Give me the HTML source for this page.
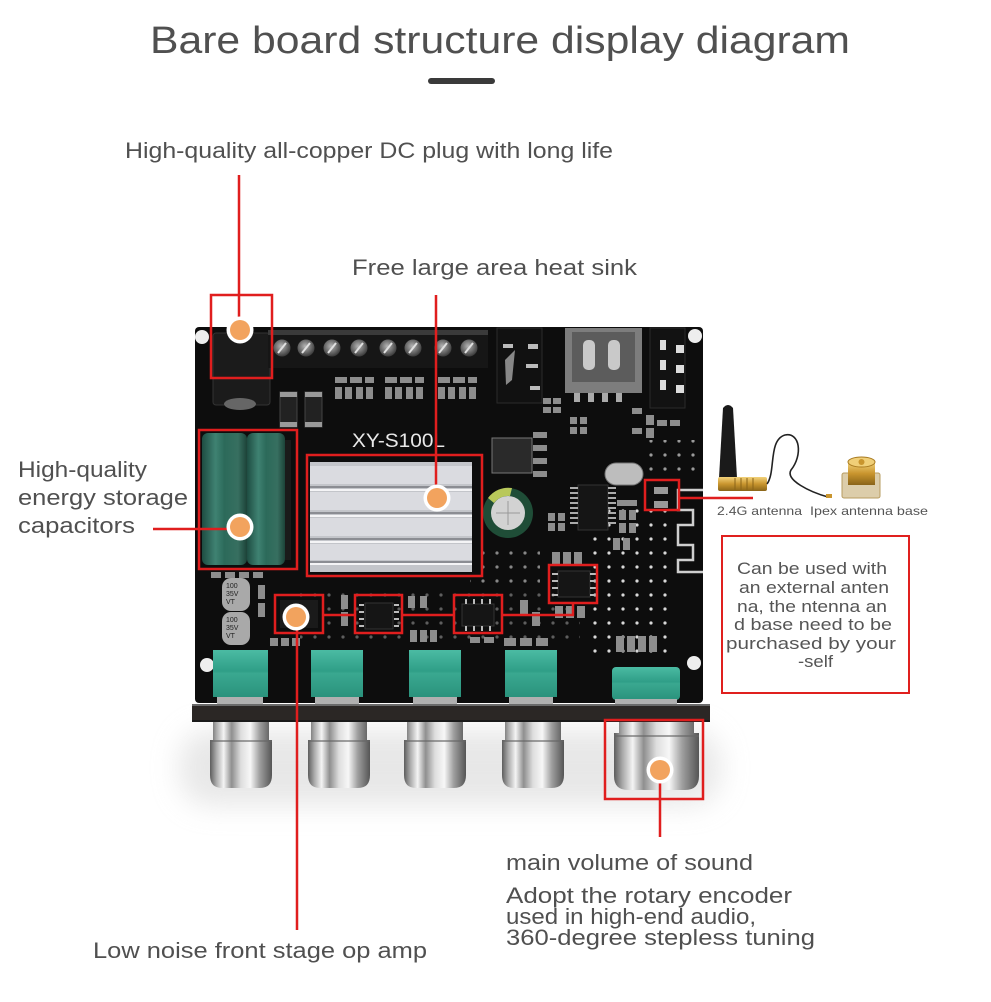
<!DOCTYPE html>
<html><head><meta charset="utf-8">
<style>
html,body{margin:0;padding:0;background:#fff;}
svg{display:block;}
text{font-family:"Liberation Sans",Arial,sans-serif;}
</style></head>
<body>
<svg width="991" height="1002" viewBox="0 0 991 1002" xmlns="http://www.w3.org/2000/svg">
<defs>
 <linearGradient id="knob" x1="0" x2="1" y1="0" y2="0">
  <stop offset="0" stop-color="#5d5d5d"/>
  <stop offset="0.1" stop-color="#a9a9a9"/>
  <stop offset="0.22" stop-color="#f4f4f4"/>
  <stop offset="0.35" stop-color="#8f8f8f"/>
  <stop offset="0.5" stop-color="#dedede"/>
  <stop offset="0.65" stop-color="#f7f7f7"/>
  <stop offset="0.8" stop-color="#a0a0a0"/>
  <stop offset="1" stop-color="#555"/>
 </linearGradient>
 <linearGradient id="cap" x1="0" x2="1" y1="0" y2="0">
  <stop offset="0" stop-color="#1e4d42"/>
  <stop offset="0.3" stop-color="#3f8272"/>
  <stop offset="0.5" stop-color="#2c6a5a"/>
  <stop offset="0.8" stop-color="#376f60"/>
  <stop offset="1" stop-color="#1c4238"/>
 </linearGradient>
 <linearGradient id="gold" x1="0" y1="0" x2="0" y2="1">
  <stop offset="0" stop-color="#f2d27a"/>
  <stop offset="0.5" stop-color="#c9952e"/>
  <stop offset="1" stop-color="#8a6418"/>
 </linearGradient>
 <linearGradient id="teal" x1="0" y1="0" x2="0" y2="1">
  <stop offset="0" stop-color="#4bbba3"/>
  <stop offset="0.45" stop-color="#2f9e87"/>
  <stop offset="0.5" stop-color="#3aa890"/>
  <stop offset="1" stop-color="#2a927c"/>
 </linearGradient>
 <radialGradient id="screw" cx="0.45" cy="0.4" r="0.6">
  <stop offset="0" stop-color="#b5b5b5"/>
  <stop offset="1" stop-color="#3a3a3a"/>
 </radialGradient>
 <pattern id="vias" width="14" height="14" patternUnits="userSpaceOnUse">
  <circle cx="7" cy="7" r="1.6" fill="#d8d8d8"/>
 </pattern>
 <filter id="blur" x="-50%" y="-50%" width="200%" height="200%"><feGaussianBlur stdDeviation="14"/></filter>
</defs>

<rect width="991" height="1002" fill="#fff"/>

<!-- Title -->
<text x="150" y="53" font-size="38" fill="#505050" textLength="700" lengthAdjust="spacingAndGlyphs">Bare board structure display diagram</text>
<rect x="428" y="78" width="67" height="6" rx="3" fill="#3a3a3a"/>

<!-- Labels -->
<g font-size="22" fill="#505050">
 <text x="125" y="158" textLength="488" lengthAdjust="spacingAndGlyphs">High-quality all-copper DC plug with long life</text>
 <text x="352" y="275" textLength="285" lengthAdjust="spacingAndGlyphs">Free large area heat sink</text>
 <text x="18" y="477" textLength="129" lengthAdjust="spacingAndGlyphs">High-quality</text>
 <text x="18" y="505" textLength="170" lengthAdjust="spacingAndGlyphs">energy storage</text>
 <text x="18" y="533" textLength="117" lengthAdjust="spacingAndGlyphs">capacitors</text>
 <text x="506" y="870" textLength="247" lengthAdjust="spacingAndGlyphs">main volume of sound</text>
 <text x="506" y="903" textLength="286" lengthAdjust="spacingAndGlyphs">Adopt the rotary encoder</text>
 <text x="506" y="924" textLength="250" lengthAdjust="spacingAndGlyphs">used in high-end audio,</text>
 <text x="506" y="945" textLength="309" lengthAdjust="spacingAndGlyphs">360-degree stepless tuning</text>
 <text x="93" y="958" textLength="334" lengthAdjust="spacingAndGlyphs">Low noise front stage op amp</text>
</g>

<!-- Shadow under knobs -->
<rect x="180" y="730" width="540" height="75" rx="30" fill="#d4d4d4" opacity="0.55" filter="url(#blur)"/>

<!-- PCB -->
<rect x="195" y="327" width="508" height="376" rx="4" fill="#0d0d0d"/>
<!-- vias -->
<rect x="590" y="505" width="85" height="150" fill="url(#vias)"/>
<rect x="470" y="545" width="70" height="40" fill="url(#vias)" opacity="0.6"/>
<rect x="300" y="585" width="280" height="60" fill="url(#vias)" opacity="0.4"/>
<rect x="640" y="440" width="60" height="40" fill="url(#vias)" opacity="0.7"/>

<!-- mounting holes -->
<g fill="#eeeeee">
 <circle cx="202" cy="337" r="7"/><circle cx="695" cy="336" r="7"/>
 <circle cx="207" cy="665" r="7"/><circle cx="694" cy="663" r="7"/>
</g>

<!-- DC jack -->
<rect x="213" y="333" width="57" height="72" rx="3" fill="#1b1b1b" stroke="#333"/>
<ellipse cx="240" cy="404" rx="16" ry="6" fill="#666"/>

<!-- Terminal block -->
<rect x="268" y="330" width="220" height="38" fill="#161616"/>
<rect x="268" y="330" width="220" height="5" fill="#3a3a3a"/>
<g fill="url(#screw)">
 <circle cx="282" cy="348" r="8.5"/><circle cx="306" cy="348" r="8.5"/>
 <circle cx="332" cy="348" r="8.5"/><circle cx="359" cy="348" r="8.5"/>
 <circle cx="388" cy="348" r="8.5"/><circle cx="413" cy="348" r="8.5"/>
 <circle cx="443" cy="348" r="8.5"/><circle cx="469" cy="348" r="8.5"/>
</g>
<g stroke="#e0e0e0" stroke-width="2">
 <line x1="278" y1="353" x2="286" y2="343"/><line x1="302" y1="353" x2="310" y2="343"/>
 <line x1="328" y1="353" x2="336" y2="343"/><line x1="355" y1="353" x2="363" y2="343"/>
 <line x1="384" y1="353" x2="392" y2="343"/><line x1="409" y1="353" x2="417" y2="343"/>
 <line x1="439" y1="353" x2="447" y2="343"/><line x1="465" y1="353" x2="473" y2="343"/>
</g>

<!-- Audio jack -->
<rect x="497" y="328" width="45" height="75" fill="#111" stroke="#2a2a2a"/>
<g fill="#bbb">
 <rect x="503" y="344" width="10" height="4"/><rect x="528" y="344" width="10" height="5"/>
 <rect x="526" y="364" width="12" height="4"/><rect x="530" y="386" width="10" height="4"/>
 <path d="M505 360 L515 350 L512 380 L506 385 Z" fill="#888"/>
</g>

<!-- USB -->
<rect x="565" y="328" width="77" height="65" fill="#7d7d7d"/>
<rect x="572" y="332" width="63" height="50" fill="#5c5c5c"/>
<rect x="583" y="340" width="12" height="30" rx="5" fill="#c9c9c9"/>
<rect x="608" y="340" width="12" height="30" rx="5" fill="#c9c9c9"/>
<g fill="#aaa"><rect x="574" y="393" width="6" height="9"/><rect x="588" y="393" width="6" height="9"/><rect x="602" y="393" width="6" height="9"/><rect x="616" y="393" width="6" height="9"/></g>

<!-- right connector -->
<rect x="650" y="328" width="35" height="80" fill="#121212" stroke="#2a2a2a"/>
<g fill="#ddd"><rect x="676" y="345" width="8" height="8"/><rect x="676" y="365" width="8" height="8"/><rect x="676" y="385" width="8" height="8"/><rect x="660" y="340" width="6" height="10"/><rect x="660" y="360" width="6" height="10"/><rect x="660" y="380" width="6" height="10"/></g>

<!-- diodes -->
<rect x="280" y="392" width="17" height="35" fill="#222" stroke="#444"/>
<rect x="280" y="392" width="17" height="5" fill="#999"/><rect x="280" y="422" width="17" height="5" fill="#999"/>
<rect x="305" y="392" width="17" height="35" fill="#222" stroke="#444"/>
<rect x="305" y="392" width="17" height="5" fill="#999"/><rect x="305" y="422" width="17" height="5" fill="#999"/>

<!-- SMD clusters -->
<g fill="#8d8d8d">
 <rect x="335" y="377" width="12" height="6"/><rect x="350" y="377" width="12" height="6"/><rect x="365" y="377" width="9" height="6"/>
 <rect x="335" y="387" width="7" height="12"/><rect x="345" y="387" width="7" height="12"/><rect x="356" y="387" width="7" height="12"/><rect x="366" y="387" width="7" height="12"/>
 <rect x="385" y="377" width="12" height="6"/><rect x="400" y="377" width="12" height="6"/><rect x="415" y="377" width="9" height="6"/>
 <rect x="385" y="387" width="7" height="12"/><rect x="395" y="387" width="7" height="12"/><rect x="406" y="387" width="7" height="12"/><rect x="416" y="387" width="7" height="12"/>
 <rect x="438" y="377" width="12" height="6"/><rect x="453" y="377" width="12" height="6"/><rect x="468" y="377" width="9" height="6"/>
 <rect x="438" y="387" width="7" height="12"/><rect x="448" y="387" width="7" height="12"/><rect x="459" y="387" width="7" height="12"/><rect x="469" y="387" width="7" height="12"/>
 <rect x="543" y="398" width="8" height="6"/><rect x="553" y="398" width="8" height="6"/><rect x="543" y="407" width="8" height="6"/><rect x="553" y="407" width="8" height="6"/>
 <rect x="570" y="417" width="7" height="7"/><rect x="580" y="417" width="7" height="7"/><rect x="570" y="427" width="7" height="7"/><rect x="580" y="427" width="7" height="7"/>
 <rect x="632" y="408" width="10" height="6"/><rect x="646" y="415" width="8" height="10"/><rect x="657" y="420" width="10" height="6"/><rect x="670" y="420" width="10" height="6"/><rect x="646" y="428" width="8" height="10"/><rect x="632" y="428" width="10" height="6"/>
 <rect x="533" y="432" width="14" height="6"/><rect x="533" y="445" width="14" height="6"/><rect x="533" y="458" width="14" height="6"/><rect x="533" y="471" width="14" height="6"/>
 <rect x="548" y="513" width="7" height="8"/><rect x="558" y="513" width="7" height="8"/><rect x="548" y="523" width="7" height="8"/><rect x="558" y="523" width="7" height="8"/>
 <rect x="617" y="500" width="20" height="6"/><rect x="619" y="510" width="7" height="10"/><rect x="629" y="510" width="7" height="10"/><rect x="619" y="523" width="7" height="10"/><rect x="629" y="523" width="7" height="10"/>
 <rect x="613" y="538" width="7" height="12"/><rect x="623" y="538" width="7" height="12"/>
 <rect x="616" y="636" width="8" height="16"/><rect x="627" y="636" width="8" height="16"/><rect x="638" y="636" width="8" height="16"/><rect x="649" y="636" width="8" height="16"/>
 <rect x="504" y="638" width="12" height="8"/><rect x="520" y="638" width="12" height="8"/><rect x="536" y="638" width="12" height="8"/>
 <rect x="552" y="552" width="8" height="12"/><rect x="563" y="552" width="8" height="12"/><rect x="574" y="552" width="8" height="12"/>
 <rect x="555" y="606" width="8" height="12"/><rect x="566" y="606" width="8" height="12"/><rect x="577" y="606" width="8" height="12"/>
 <rect x="410" y="630" width="7" height="12"/><rect x="420" y="630" width="7" height="12"/><rect x="430" y="630" width="7" height="12"/>
 <rect x="470" y="637" width="10" height="6"/><rect x="484" y="637" width="10" height="6"/>
 <rect x="258" y="585" width="7" height="14"/><rect x="258" y="603" width="7" height="14"/>
 <rect x="270" y="638" width="8" height="8"/><rect x="281" y="638" width="8" height="8"/><rect x="292" y="638" width="8" height="8"/>
 <rect x="341" y="595" width="7" height="14"/><rect x="341" y="612" width="7" height="14"/>
 <rect x="408" y="596" width="7" height="12"/><rect x="420" y="596" width="7" height="12"/>
 <rect x="211" y="572" width="10" height="6"/><rect x="225" y="572" width="10" height="6"/><rect x="239" y="572" width="10" height="6"/><rect x="253" y="572" width="10" height="6"/>
 <rect x="520" y="600" width="8" height="14"/><rect x="532" y="612" width="8" height="14"/>
</g>

<!-- big caps -->
<rect x="202" y="433" width="45" height="132" rx="6" fill="url(#cap)"/>
<rect x="247" y="433" width="38" height="132" rx="6" fill="url(#cap)"/>
<rect x="285" y="440" width="6" height="120" fill="#1a1a1a"/>

<!-- heat sink -->
<rect x="310" y="462" width="162" height="110" fill="#c3c5ca"/>
<g fill="#dadbe0">
 <rect x="310" y="466" width="162" height="18"/><rect x="310" y="492" width="162" height="18"/>
 <rect x="310" y="518" width="162" height="18"/><rect x="310" y="544" width="162" height="16"/>
</g>
<g fill="#f4f4f6">
 <rect x="310" y="489" width="162" height="2"/><rect x="310" y="515" width="162" height="2"/>
 <rect x="310" y="541" width="162" height="2"/><rect x="310" y="563" width="162" height="2"/>
</g>
<g fill="#8b8d93">
 <rect x="310" y="486" width="162" height="2"/><rect x="310" y="512" width="162" height="2"/>
 <rect x="310" y="538" width="162" height="2"/><rect x="310" y="561" width="162" height="2"/>
</g>
<text x="352" y="447" font-size="19" fill="#e8e8e8" textLength="93" lengthAdjust="spacingAndGlyphs">XY-S100L</text>

<!-- inductor / electrolytic -->
<rect x="492" y="438" width="40" height="35" fill="#2a2a2a" stroke="#777"/>
<circle cx="508" cy="513" r="25" fill="#1f4d37"/>
<path d="M488 498 A25 25 0 0 1 512 488 L510 496 A18 18 0 0 0 494 503 Z" fill="#b8c85a"/>
<circle cx="508" cy="513" r="17" fill="#d2d2d2"/>
<line x1="496" y1="513" x2="520" y2="513" stroke="#999"/><line x1="508" y1="501" x2="508" y2="525" stroke="#999"/>

<!-- crystal & IC -->
<rect x="605" y="463" width="38" height="22" rx="11" fill="#bdbdbd" stroke="#777"/>
<rect x="578" y="485" width="30" height="45" fill="#151515" stroke="#333"/>
<g fill="#aaa">
 <rect x="570" y="487" width="8" height="2"/><rect x="570" y="492" width="8" height="2"/><rect x="570" y="497" width="8" height="2"/><rect x="570" y="502" width="8" height="2"/><rect x="570" y="507" width="8" height="2"/><rect x="570" y="512" width="8" height="2"/><rect x="570" y="517" width="8" height="2"/><rect x="570" y="522" width="8" height="2"/>
 <rect x="608" y="487" width="8" height="2"/><rect x="608" y="492" width="8" height="2"/><rect x="608" y="497" width="8" height="2"/><rect x="608" y="502" width="8" height="2"/><rect x="608" y="507" width="8" height="2"/><rect x="608" y="512" width="8" height="2"/><rect x="608" y="517" width="8" height="2"/><rect x="608" y="522" width="8" height="2"/>
</g>
<rect x="654" y="487" width="14" height="7" fill="#999"/><rect x="654" y="501" width="14" height="7" fill="#999"/>
<path d="M703 490 H678 V510 H693 V525 H678 V545 H693 V560 H678 V572 H703" fill="none" stroke="#cfcfcf" stroke-width="2.5"/>

<!-- op amp ICs -->
<rect x="280" y="600" width="38" height="28" fill="#1a1a1a"/>
<rect x="365" y="603" width="28" height="26" fill="#151515" stroke="#333"/>
<g fill="#bbb"><rect x="359" y="604" width="5" height="2"/><rect x="359" y="611" width="5" height="2"/><rect x="359" y="618" width="5" height="2"/><rect x="359" y="625" width="5" height="2"/><rect x="394" y="604" width="5" height="2"/><rect x="394" y="611" width="5" height="2"/><rect x="394" y="618" width="5" height="2"/><rect x="394" y="625" width="5" height="2"/></g>
<rect x="462" y="604" width="32" height="22" fill="#151515" stroke="#333"/>
<g fill="#bbb"><rect x="465" y="599" width="2" height="5"/><rect x="473" y="599" width="2" height="5"/><rect x="481" y="599" width="2" height="5"/><rect x="489" y="599" width="2" height="5"/><rect x="465" y="626" width="2" height="5"/><rect x="473" y="626" width="2" height="5"/><rect x="481" y="626" width="2" height="5"/><rect x="489" y="626" width="2" height="5"/></g>
<rect x="558" y="571" width="32" height="26" fill="#151515" stroke="#333"/>
<g fill="#bbb"><rect x="552" y="573" width="6" height="2"/><rect x="552" y="580" width="6" height="2"/><rect x="552" y="587" width="6" height="2"/><rect x="552" y="594" width="6" height="2"/><rect x="590" y="573" width="6" height="2"/><rect x="590" y="580" width="6" height="2"/><rect x="590" y="587" width="6" height="2"/><rect x="590" y="594" width="6" height="2"/></g>

<!-- small caps -->
<rect x="222" y="578" width="28" height="33" rx="9" fill="#a9a9a9"/>
<rect x="222" y="612" width="28" height="33" rx="9" fill="#a9a9a9"/>
<g font-size="7" fill="#222"><text x="226" y="588">100</text><text x="226" y="596">35V</text><text x="226" y="604">VT</text>
<text x="226" y="622">100</text><text x="226" y="630">35V</text><text x="226" y="638">VT</text></g>

<!-- pots -->
<rect x="213" y="650" width="55" height="47" fill="url(#teal)"/><rect x="217" y="697" width="46" height="11" fill="#b0b0b0"/>
<rect x="311" y="650" width="52" height="47" fill="url(#teal)"/><rect x="315" y="697" width="44" height="11" fill="#b0b0b0"/>
<rect x="409" y="650" width="52" height="47" fill="url(#teal)"/><rect x="413" y="697" width="44" height="11" fill="#b0b0b0"/>
<rect x="505" y="650" width="52" height="47" fill="url(#teal)"/><rect x="509" y="697" width="44" height="11" fill="#b0b0b0"/>
<rect x="612" y="667" width="68" height="33" rx="4" fill="url(#teal)"/><rect x="615" y="699" width="62" height="9" fill="#b0b0b0"/>

<!-- front strip -->
<rect x="192" y="704" width="518" height="18" fill="#2b2725"/>
<rect x="192" y="704" width="518" height="2" fill="#6a6a6a"/>
<rect x="192" y="720" width="518" height="2" fill="#1a1a1a"/>

<!-- knobs -->
<g fill="url(#knob)">
 <path d="M213 722 H269 V740 H272 V775 Q272 788 260 788 H222 Q210 788 210 775 V740 H213 Z"/>
 <path d="M311 722 H367 V740 H370 V775 Q370 788 358 788 H320 Q308 788 308 775 V740 H311 Z"/>
 <path d="M407 722 H463 V740 H466 V775 Q466 788 454 788 H416 Q404 788 404 775 V740 H407 Z"/>
 <path d="M505 722 H561 V740 H564 V775 Q564 788 552 788 H514 Q502 788 502 775 V740 H505 Z"/>
 <path d="M619 722 H694 V733 H699 V776 Q699 790 685 790 H628 Q614 790 614 776 V733 H619 Z"/>
</g>
<g fill="#666" opacity="0.6">
 <rect x="210" y="740" width="62" height="2"/><rect x="308" y="740" width="62" height="2"/>
 <rect x="404" y="740" width="62" height="2"/><rect x="502" y="740" width="62" height="2"/>
 <rect x="614" y="735" width="85" height="2"/>
</g>

<!-- antenna -->
<path d="M723 408 Q728 402 733 408 L737 478 H719 Z" fill="#1a1a1a"/>
<rect x="718" y="477" width="49" height="14" rx="2" fill="url(#gold)"/>
<g stroke="#8a6418" stroke-width="1"><line x1="735" y1="478" x2="735" y2="490"/><line x1="741" y1="478" x2="741" y2="490"/><line x1="747" y1="478" x2="747" y2="490"/><line x1="753" y1="478" x2="753" y2="490"/></g>
<path d="M767 484 C776 472 768 440 785 435 C800 432 803 455 791 470 C785 480 810 492 828 497" fill="none" stroke="#222" stroke-width="1.6"/>
<rect x="826" y="494" width="6" height="4" fill="#c9952e"/>
<rect x="842" y="473" width="38" height="25" rx="2" fill="#dccdaa" stroke="#b79c60"/>
<rect x="848" y="462" width="27" height="23" fill="url(#gold)"/>
<ellipse cx="861.5" cy="462" rx="13.5" ry="5" fill="#f0cf78" stroke="#a87a20"/>
<circle cx="861.5" cy="462" r="3" fill="#c9952e"/>
<g font-size="12" fill="#555">
 <text x="717" y="515" textLength="85" lengthAdjust="spacingAndGlyphs">2.4G antenna</text>
 <text x="810" y="515" textLength="118" lengthAdjust="spacingAndGlyphs">Ipex antenna base</text>
</g>

<!-- note box -->
<rect x="722" y="536" width="187" height="157" fill="none" stroke="#e0201e" stroke-width="2"/>
<g font-size="17" fill="#555">
 <text x="737" y="574" textLength="150" lengthAdjust="spacingAndGlyphs">Can be used with</text>
 <text x="739" y="593" textLength="150" lengthAdjust="spacingAndGlyphs">an external anten</text>
 <text x="737" y="612" textLength="150" lengthAdjust="spacingAndGlyphs">na, the ntenna an</text>
 <text x="734" y="630" textLength="158" lengthAdjust="spacingAndGlyphs">d base need to be</text>
 <text x="726" y="649" textLength="170" lengthAdjust="spacingAndGlyphs">purchased by your</text>
 <text x="798" y="667" textLength="35" lengthAdjust="spacingAndGlyphs">-self</text>
</g>

<!-- red boxes & lines -->
<g fill="none" stroke="#e01e1e" stroke-width="2.5">
 <rect x="211" y="295" width="61" height="83"/>
 <rect x="199" y="430" width="98" height="139"/>
 <rect x="307" y="455" width="175" height="121"/>
 <rect x="645" y="480" width="34" height="30"/>
 <rect x="275" y="595" width="48" height="38"/>
 <rect x="355" y="595" width="47" height="38"/>
 <rect x="454" y="595" width="48" height="38"/>
 <rect x="549" y="565" width="48" height="38"/>
 <rect x="605" y="720" width="98" height="79"/>
 <line x1="239" y1="175" x2="239" y2="330"/>
 <line x1="436" y1="295" x2="436" y2="498"/>
 <line x1="153" y1="529" x2="240" y2="529"/>
 <line x1="679" y1="498" x2="753" y2="498"/>
 <line x1="297" y1="617" x2="297" y2="930"/>
 <line x1="660" y1="770" x2="660" y2="837"/>
 <polyline points="323,615 355,615"/>
 <polyline points="402,615 454,615"/>
 <polyline points="502,615 573,615 573,603"/>
</g>

<!-- dots -->
<g>
 <circle cx="240" cy="330" r="13.5" fill="#fff"/><circle cx="240" cy="330" r="10" fill="#f2a35e"/>
 <circle cx="240" cy="527" r="13.5" fill="#fff"/><circle cx="240" cy="527" r="10" fill="#f2a35e"/>
 <circle cx="437" cy="498" r="13.5" fill="#fff"/><circle cx="437" cy="498" r="10" fill="#f2a35e"/>
 <circle cx="296" cy="617" r="13.5" fill="#fff"/><circle cx="296" cy="617" r="10" fill="#f2a35e"/>
 <circle cx="660" cy="770" r="13.5" fill="#fff"/><circle cx="660" cy="770" r="10" fill="#f2a35e"/>
</g>
</svg>
</body></html>
